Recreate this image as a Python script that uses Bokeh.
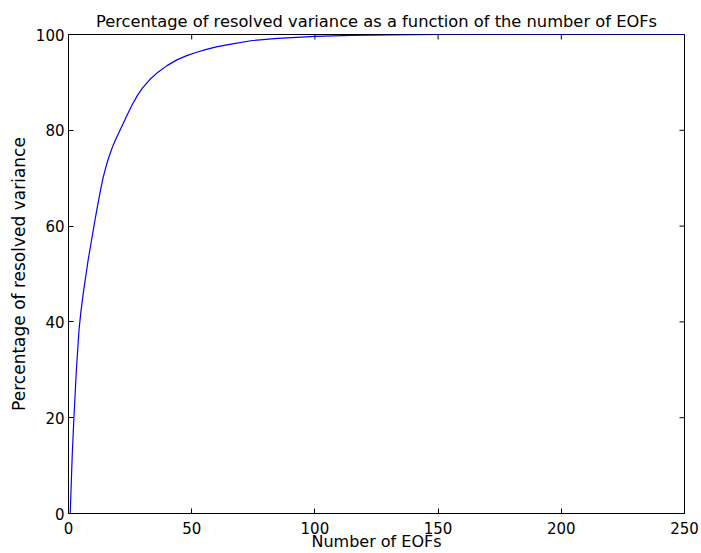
import math
from bokeh.plotting import figure
from bokeh.models import Range1d, FixedTicker
from bokeh.embed import file_html
from bokeh.resources import INLINE

# Data
n_eofs = [0.7, 1.5, 2.2, 3.2, 4.3, 5, 6, 7, 8, 9, 10, 11, 12, 13, 14, 15, 16, 17, 18, 19,
          20, 21, 22, 24, 26, 28, 30, 33, 36, 40, 44, 48, 52, 56, 60, 66, 74, 85, 100,
          115, 130, 150, 200, 250]
resolved_pct = [0, 12, 20, 30, 38.5, 42, 46, 49.5, 53, 56, 59, 62, 64.8, 67.5, 70, 72,
                73.8, 75.3, 76.7, 77.9, 79.0, 80.1, 81.2, 83.4, 85.5, 87.3, 88.8, 90.6,
                92, 93.5, 94.7, 95.6, 96.3, 96.9, 97.4, 98.0, 98.7, 99.2, 99.6, 99.8,
                99.9, 100, 100, 100]
x_ticks = [0, 50, 100, 150, 200, 250]
y_ticks = [0, 20, 40, 60, 80, 100]
x_lo, x_hi = 0, 250
y_lo, y_hi = 0, 100

FONT = "DejaVu Sans"

p = figure(width=701, height=553, output_backend="svg", toolbar_location=None,
           x_range=Range1d(x_lo, x_hi), y_range=Range1d(y_lo, y_hi),
           x_axis_label="Number of EOFs",
           y_axis_label="Percentage of resolved variance",
           title="Percentage of resolved variance as a function of the number of EOFs",
           min_border_left=68, min_border_right=17, min_border_top=34, min_border_bottom=40)

p.title.align = "center"
p.title.text_font = FONT
p.title.text_font_style = "normal"
p.title.text_font_size = "16.3px"
p.title.text_color = "black"
p.title.standoff = 8

p.xgrid.visible = False
p.ygrid.visible = False
p.outline_line_color = "black"
p.outline_line_width = 1
p.background_fill_color = "white"
p.border_fill_color = "white"

for ax, ticks in ((p.xaxis[0], x_ticks), (p.yaxis[0], y_ticks)):
    ax.ticker = FixedTicker(ticks=ticks)
    ax.major_tick_in = 5
    ax.major_tick_out = 0
    ax.minor_tick_line_color = None
    ax.axis_line_color = "black"
    ax.major_tick_line_color = "black"
    ax.major_label_text_font = FONT
    ax.major_label_text_font_size = "15px"
    ax.major_label_text_color = "black"
    ax.axis_label_text_font = FONT
    ax.axis_label_text_font_style = "normal"
    ax.axis_label_text_color = "black"

p.xaxis[0].axis_label_text_font_size = "16px"
p.yaxis[0].axis_label_text_font_size = "17px"
p.xaxis[0].major_label_standoff = 8
p.xaxis[0].axis_label_standoff = -5
p.yaxis[0].major_label_standoff = 4
p.yaxis[0].axis_label_standoff = 4

# inward ticks on the top and right edges (clipped half-dashes)
p.scatter(x=x_ticks, y=[y_hi] * len(x_ticks), marker="dash", size=10,
          angle=math.pi / 2, line_color="black", line_width=1)
p.scatter(x=[x_hi] * len(y_ticks), y=y_ticks, marker="dash", size=10,
          line_color="black", line_width=1)

p.line(n_eofs, resolved_pct, line_color="#0000ff", line_width=1.2)

open("out.html", "w").write(file_html(p, INLINE))
